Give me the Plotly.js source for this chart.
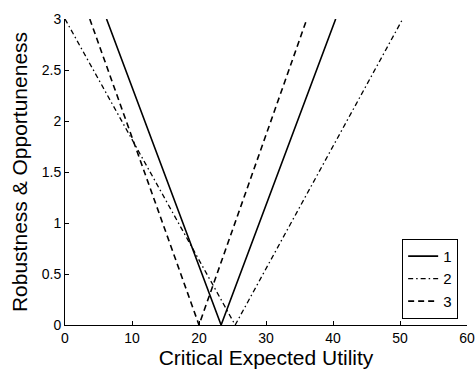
<!DOCTYPE html>
<html>
<head>
<meta charset="utf-8">
<script src="https://cdn.plot.ly/plotly-3.0.1.min.js"></script>
<style>html,body{margin:0;padding:0;background:#fff;}#chart{width:475px;height:369px;}</style>
</head>
<body>
<div id="chart"></div>
<script>
const seriesNames = ["1", "2", "3"];
const x1 = [6.2, 23.3, 40.4];
const y1 = [3, 0, 3];
const x2 = [0, 25.4, 50.4];
const y2 = [3, 0, 3];
const x3 = [3.7, 20, 36.1];
const y3 = [3, 0, 3];
const xTitle = "Critical Expected Utility";
const yTitle = "Robustness &amp; Opportuneness";

const styles = [
  {dash: "solid", width: 1.6},
  {dash: "5px,3px,1.5px,3px", width: 1.3},
  {dash: "6px,4px", width: 1.6}
];
const xs = [x1, x2, x3];
const ys = [y1, y2, y3];
const traces = xs.map((x, i) => ({
  x: x, y: ys[i], name: seriesNames[i], type: "scatter", mode: "lines",
  line: {color: "#000", width: styles[i].width, dash: styles[i].dash}
}));

const font = {family: "Liberation Sans, Arial, sans-serif", color: "#000"};
const layout = {
  width: 475, height: 369,
  margin: {l: 65, r: 8, t: 19, b: 44},
  paper_bgcolor: "#fff", plot_bgcolor: "#fff",
  font: Object.assign({size: 14}, font),
  showlegend: true,
  legend: {
    x: 0.978, y: 0.02, xanchor: "right", yanchor: "bottom",
    bordercolor: "#000", borderwidth: 1, bgcolor: "#fff",
    font: Object.assign({size: 15}, font),
    itemwidth: 30, tracegroupgap: 0
  },
  xaxis: {
    range: [0, 60], dtick: 10, tick0: 0, showgrid: false, zeroline: false,
    showline: true, linecolor: "#000", linewidth: 1,
    ticks: "inside", ticklen: 4, tickcolor: "#000",
    ticklabeloverflow: "allow", automargin: false,
    tickfont: Object.assign({size: 14}, font),
    title: {text: xTitle, font: Object.assign({size: 21}, font), standoff: 4}
  },
  yaxis: {
    range: [0, 3], dtick: 0.5, tick0: 0, showgrid: false, zeroline: false,
    showline: true, linecolor: "#000", linewidth: 1,
    ticks: "inside", ticklen: 4, tickcolor: "#000",
    ticklabeloverflow: "allow", automargin: false,
    tickfont: Object.assign({size: 14}, font),
    title: {text: yTitle, font: Object.assign({size: 21}, font), standoff: 8}
  }
};
Plotly.newPlot("chart", traces, layout, {displayModeBar: false, staticPlot: true});
</script>
</body>
</html>
